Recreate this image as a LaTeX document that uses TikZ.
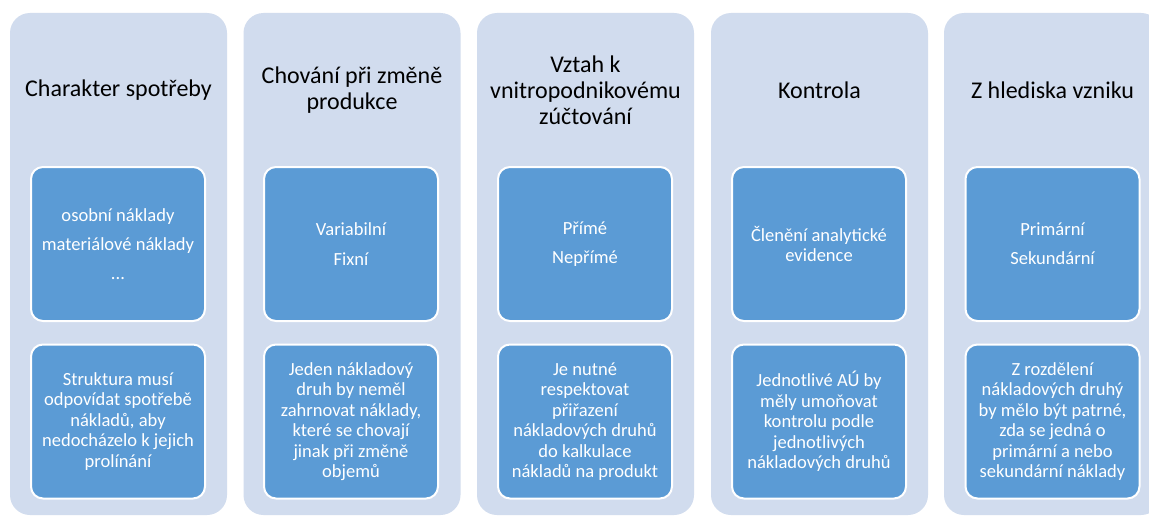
\documentclass[tikz,border=0pt]{standalone}
\usepackage{fontspec}
\setmainfont{Carlito}
\definecolor{panelfill}{HTML}{D1DCEE}
\definecolor{boxfill}{HTML}{5B9BD5}
\begin{document}
\begin{tikzpicture}[x=0.75pt, y=-0.75pt,
  panel/.style={rectangle, rounded corners=15pt, fill=panelfill, draw=none,
    minimum width=162.75pt, minimum height=376.5pt, inner sep=0pt},
  title/.style={align=center, text=black, font=\fontsize{18}{19.5}\selectfont, inner sep=0pt},
  itembox/.style={rectangle, rounded corners=9pt, fill=boxfill, draw=white, line width=1.5pt,
    minimum width=130.5pt, minimum height=115.5pt, inner sep=1pt, align=center, text=white,
    font=\fontsize{13.9}{15.4}\selectfont}]
\useasboundingbox (0,0) rectangle (1149,517);
\clip (0,0) rectangle (1149,517);
\fill[white] (0,0) rectangle (1149,517);

% five column panels
\foreach \n/\cx in {p1/118.5, p2/352, p3/585.5, p4/819.5, p5/1052.5}
  \node[panel] (\n) at (\cx,264) {};

% column headings
\node[title] (t1) at (118.5,90) {Charakter spotřeby};
\node[title] (t2) at (352,90) {Chování při změně\\produkce};
\node[title] (t3) at (585.5,90) {Vztah k\\vnitropodnikovému\\zúčtování};
\node[title] (t4) at (819.5,90) {Kontrola};
\node[title] (t5) at (1052.5,90) {Z hlediska vzniku};

% upper boxes: kinds of costs
\node[itembox] (a1) at (118,244) {osobní náklady\\[6.6pt]materiálové náklady\\[6.6pt]...};
\node[itembox] (a2) at (351,244) {Variabilní\\[6.6pt]Fixní};
\node[itembox] (a3) at (585,244) {Přímé\\[6.6pt]Nepřímé};
\node[itembox] (a4) at (819,244) {Členění analytické\\evidence};
\node[itembox] (a5) at (1052.5,244) {Primární\\[6.6pt]Sekundární};

% lower boxes: requirements
\node[itembox] (b1) at (118,421.5) {Struktura musí\\odpovídat spotřebě\\nákladů, aby\\nedocházelo k jejich\\prolínání};
\node[itembox] (b2) at (351,421.5) {Jeden nákladový\\druh by neměl\\zahrnovat náklady,\\které se chovají\\jinak při změně\\objemů};
\node[itembox] (b3) at (585,421.5) {Je nutné\\respektovat\\přiřazení\\nákladových druhů\\do kalkulace\\nákladů na produkt};
\node[itembox] (b4) at (819,421.5) {Jednotlivé AÚ by\\měly umoňovat\\kontrolu podle\\jednotlivých\\nákladových druhů};
\node[itembox] (b5) at (1052.5,421.5) {Z rozdělení\\nákladových druhý\\by mělo být patrné,\\zda se jedná o\\primární a nebo\\sekundární náklady};
\end{tikzpicture}
\end{document}
